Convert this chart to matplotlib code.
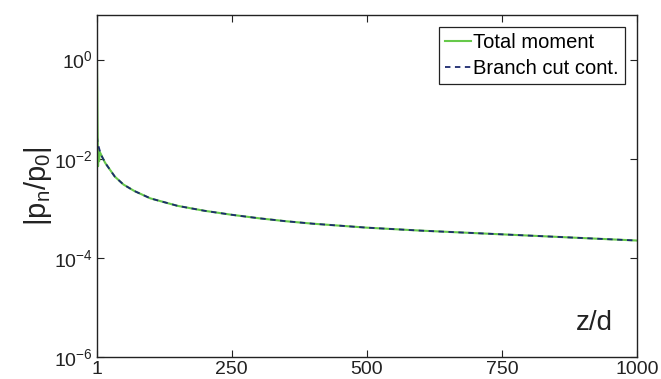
import matplotlib
matplotlib.use("Agg")
import matplotlib.pyplot as plt
import numpy as np

plt.rcParams['font.family'] = ['Liberation Sans', 'DejaVu Sans']
plt.rcParams['mathtext.fontset'] = 'custom'
plt.rcParams['mathtext.rm'] = 'Liberation Sans'
plt.rcParams['mathtext.it'] = 'Liberation Sans:italic'

# distance along z/d
z = [1, 2, 3, 4, 5, 6, 8, 10, 16, 25, 34, 50, 70, 100, 150, 200, 250,
     300, 350, 400, 500, 600, 700, 800, 900, 1000]

log_branch = [-1.55, -1.65, -1.70, -1.75, -1.79, -1.83, -1.89, -1.95, -2.08,
              -2.22, -2.36, -2.52, -2.65, -2.80, -2.95, -3.05, -3.13,
              -3.20, -3.26, -3.31, -3.39, -3.45, -3.50, -3.55, -3.60, -3.65]

# log10 |p_n/p_0| for the total moment (starts at 1, then follows the branch cut)
log_total = [0.0, -1.30, -2.15, -1.80, -2.05, -1.86, -1.90, -1.95, -2.08,
             -2.22, -2.36, -2.52, -2.65, -2.80, -2.95, -3.05, -3.13,
             -3.20, -3.26, -3.31, -3.39, -3.45, -3.50, -3.55, -3.60, -3.65]

xticks = [1, 250, 500, 750, 1000]
yticks = [1e0, 1e-2, 1e-4, 1e-6]

fig = plt.figure(figsize=(6.61, 3.79), dpi=100)
ax = fig.add_axes([0.1467, 0.058, 0.817, 0.9024])

ax.plot(z, 10 ** np.array(log_total), color='#66c94a', lw=1.5, label='Total moment')
line, = ax.plot(z, 10 ** np.array(log_branch), color='#1c2a6e', lw=1.3,
                linestyle='--', label='Branch cut cont.')
line.set_dashes([3, 2.5])

ax.set_yscale('log')
ax.set_xlim(1, 1000)
ax.set_ylim(1e-6, 10 ** 0.9)
ax.set_xticks(xticks)
ax.set_xticklabels([str(t) for t in xticks])
ax.set_yticks(yticks)
ax.yaxis.set_minor_locator(matplotlib.ticker.NullLocator())

ax.tick_params(direction='in', length=5, width=0.8, top=True, right=True,
               labelsize=14, pad=3, colors='#222222', labelcolor='#222222')
for s in ax.spines.values():
    s.set_linewidth(1.0)
    s.set_color('#222222')

ax.set_ylabel(r'$\mathregular{|p_n/p_0|}$', fontsize=21, labelpad=0, color='#222222')
ax.text(0.955, 0.06, 'z/d', transform=ax.transAxes, fontsize=20,
        ha='right', va='bottom', color='#222222')

leg = ax.legend(loc='upper right', fontsize=14.5, frameon=True, fancybox=False,
                edgecolor='#222222', framealpha=1, handlelength=1.3,
                handletextpad=0.1, labelspacing=0.35, borderpad=0.3,
                borderaxespad=0.6)
leg.get_frame().set_linewidth(0.9)

fig.savefig('out.png', dpi=100)
